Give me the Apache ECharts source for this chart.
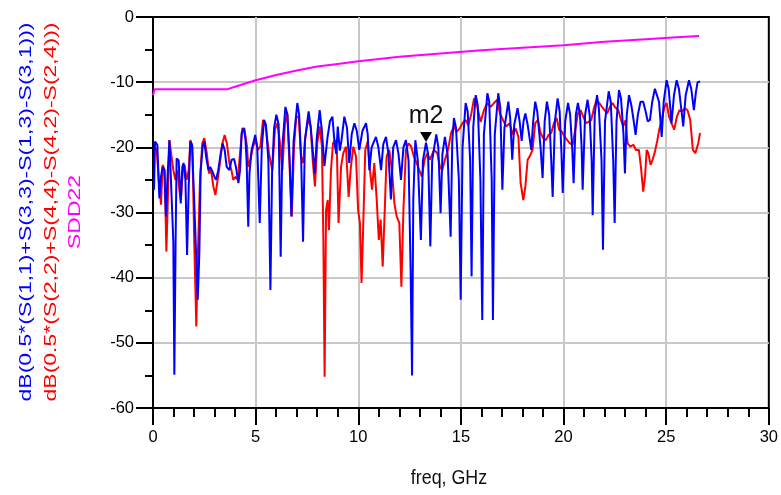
<!DOCTYPE html>
<html><head><meta charset="utf-8">
<script src="https://cdn.jsdelivr.net/npm/echarts@6/dist/echarts.min.js"></script>
<style>html,body{margin:0;padding:0;background:#fff}#c{width:781px;height:495px}</style>
</head><body><div id="c"></div>
<script>
// ---- data (freq GHz, dB) ----
const blueLabel = 'dB(0.5*(S(1,1)+S(3,3)-S(1,3)-S(3,1)))';
const redLabel = 'dB(0.5*(S(2,2)+S(4,4)-S(4,2)-S(2,4)))';
const magLabel = 'SDD22';
const xName = 'freq, GHz';
const markerName = 'm2';
const markerFreq = 13.3;
const markerDb = -19.2;

const bluePts = [[0.05,-26.5],[0.1,-19.1],[0.21,-19.6],[0.31,-27.8],[0.39,-24.5],[0.47,-23],[0.55,-23.5],[0.63,-30.6],[0.7,-25],[0.8,-18.9],[0.89,-19.1],[0.99,-34.5],[1.04,-54.9],[1.1,-34.7],[1.15,-21.7],[1.25,-22],[1.35,-28.6],[1.43,-23],[1.49,-22.4],[1.58,-25],[1.66,-36.5],[1.74,-26],[1.82,-19.1],[1.9,-19.6],[2.0,-27.6],[2.08,-34.7],[2.18,-43.4],[2.26,-36],[2.32,-23.7],[2.42,-19.9],[2.5,-19.1],[2.6,-21.7],[2.7,-23.5],[2.79,-23],[2.89,-23.7],[2.99,-24.5],[3.07,-25],[3.18,-23.5],[3.3,-20.9],[3.39,-19.4],[3.49,-20.4],[3.59,-23],[3.72,-23.5],[3.83,-21.9],[3.95,-21.8],[4.04,-23],[4.16,-25.5],[4.24,-23.5],[4.32,-17.8],[4.42,-17.1],[4.5,-18.6],[4.56,-22],[4.64,-32.2],[4.7,-24],[4.8,-20.5],[4.98,-18.1],[5.08,-20],[5.2,-31.6],[5.3,-20],[5.41,-15.8],[5.5,-16.5],[5.62,-22],[5.72,-41.9],[5.8,-24],[5.9,-17],[6.01,-15],[6.12,-16.5],[6.22,-36.8],[6.3,-20],[6.45,-13.8],[6.55,-15],[6.66,-22],[6.74,-30.6],[6.85,-19],[7.03,-13.2],[7.12,-15],[7.22,-22],[7.31,-34.5],[7.4,-19],[7.58,-14.5],[7.68,-16.8],[7.88,-24],[7.98,-18.5],[8.12,-14.3],[8.22,-17.2],[8.35,-22.9],[8.5,-18.5],[8.62,-16],[8.74,-15.3],[8.85,-19.5],[8.93,-21],[9.0,-16.8],[9.1,-20.5],[9.18,-19],[9.32,-15.3],[9.45,-17],[9.56,-22.4],[9.68,-18],[9.81,-16.3],[9.93,-17.5],[10.05,-20.4],[10.2,-17.5],[10.38,-16.3],[10.46,-18],[10.54,-23.5],[10.65,-20],[10.86,-18.4],[10.98,-20],[11.11,-23.5],[11.22,-19.5],[11.35,-18.4],[11.47,-21],[11.59,-28],[11.7,-20],[11.84,-18.9],[11.96,-21],[12.08,-25],[12.2,-20],[12.32,-18.9],[12.45,-22],[12.55,-38.8],[12.62,-55],[12.68,-28],[12.78,-18.9],[12.9,-22],[13.05,-34.2],[13.15,-22],[13.3,-19.3],[13.4,-21],[13.51,-35.2],[13.6,-22],[13.8,-18],[13.9,-20],[14.01,-30.1],[14.1,-21],[14.22,-18.4],[14.35,-21],[14.5,-33.7],[14.58,-19],[14.66,-15.5],[14.76,-17],[14.9,-25],[14.99,-43.4],[15.08,-20],[15.23,-13.2],[15.33,-14.5],[15.45,-22],[15.52,-39.8],[15.6,-17],[15.72,-12],[15.82,-13.5],[15.95,-25],[16.04,-46.5],[16.12,-18],[16.29,-11.7],[16.38,-13],[16.5,-25],[16.56,-46.5],[16.65,-18],[16.82,-11.7],[16.92,-14],[17.02,-26.5],[17.12,-17],[17.31,-13],[17.4,-15.5],[17.5,-21.9],[17.6,-16.5],[17.76,-14],[17.86,-16],[17.96,-19],[18.05,-16],[18.14,-14.8],[18.25,-16.5],[18.43,-20.4],[18.52,-16],[18.62,-13],[18.72,-14.5],[18.88,-20],[18.98,-24.7],[19.08,-16],[19.19,-13],[19.3,-15],[19.4,-22],[19.47,-27.6],[19.58,-16],[19.71,-12.5],[19.81,-14.5],[19.9,-21],[19.96,-27],[20.08,-16],[20.22,-13.2],[20.32,-15],[20.42,-20],[20.49,-25.5],[20.6,-15],[20.7,-13.2],[20.8,-15],[20.88,-20],[20.93,-26.5],[21.05,-15],[21.17,-12.7],[21.27,-15],[21.37,-22],[21.42,-30.4],[21.52,-15],[21.63,-12],[21.72,-14],[21.85,-22],[21.92,-35.7],[22.02,-16],[22.2,-11.4],[22.3,-13],[22.42,-22],[22.49,-31.6],[22.58,-16],[22.7,-11.2],[22.8,-12.5],[22.92,-18],[22.99,-24],[23.08,-15],[23.19,-12],[23.3,-13.5],[23.42,-16],[23.51,-18.1],[23.62,-15],[23.75,-13],[23.88,-13],[24.0,-14.5],[24.1,-16],[24.21,-15.8],[24.32,-13],[24.45,-11],[24.53,-10.7],[24.65,-13],[24.78,-18.4],[24.88,-13],[25.02,-9.7],[25.12,-11],[25.2,-14],[25.26,-16.3],[25.38,-12],[25.51,-9.7],[25.62,-11],[25.75,-14.5],[25.83,-16.8],[25.95,-12],[26.11,-9.7],[26.22,-11],[26.35,-14.3],[26.45,-11.5],[26.53,-10],[26.65,-9.9]];

const redPts = [[0.06,-19.9],[0.18,-20.4],[0.29,-25.5],[0.39,-28.8],[0.47,-22.7],[0.57,-23.5],[0.65,-36],[0.71,-29.6],[0.8,-18.9],[0.89,-18.6],[0.99,-23.5],[1.09,-25],[1.19,-23.5],[1.28,-26.5],[1.36,-28.1],[1.45,-23.5],[1.54,-22.7],[1.64,-25],[1.74,-23.5],[1.82,-18.9],[1.92,-19.9],[2.01,-34.7],[2.11,-47.5],[2.19,-36],[2.29,-25],[2.4,-19.4],[2.5,-18.6],[2.62,-20.9],[2.73,-24],[2.83,-23.5],[2.94,-26],[3.04,-27.3],[3.15,-25],[3.26,-22.4],[3.38,-19.4],[3.49,-18.1],[3.6,-19.4],[3.72,-22.4],[3.82,-23.5],[3.91,-25],[4.03,-24.5],[4.13,-25],[4.24,-20.9],[4.35,-17.1],[4.45,-17.1],[4.58,-19.9],[4.64,-23],[4.74,-21.9],[4.87,-19.9],[5.0,-18.9],[5.11,-20.4],[5.23,-19.9],[5.36,-15.8],[5.49,-16.8],[5.65,-20.9],[5.81,-23.5],[5.94,-17.3],[6.06,-16.3],[6.17,-18.9],[6.3,-23.5],[6.43,-16.3],[6.54,-14.8],[6.66,-23.5],[6.76,-30.6],[6.87,-19.9],[6.98,-15.3],[7.1,-15.3],[7.21,-21.4],[7.31,-22.4],[7.42,-18.4],[7.55,-15.8],[7.68,-16.8],[7.79,-22.4],[7.89,-26],[8.0,-19.4],[8.12,-16.8],[8.23,-19.9],[8.3,-34.2],[8.36,-55.2],[8.43,-29.6],[8.51,-28.1],[8.57,-32.7],[8.67,-23.5],[8.77,-19.4],[8.88,-18.9],[8.96,-20.9],[9.04,-31.6],[9.16,-23],[9.27,-20.9],[9.4,-19.9],[9.53,-27.6],[9.64,-23],[9.76,-19.9],[9.89,-21.4],[9.99,-29.6],[10.08,-31.6],[10.16,-40.8],[10.25,-31.1],[10.34,-20.4],[10.46,-19.1],[10.57,-23.5],[10.67,-26.5],[10.78,-22.4],[10.9,-28.1],[11.0,-34.2],[11.09,-31.1],[11.19,-38.3],[11.29,-29.6],[11.38,-21.4],[11.51,-20.4],[11.64,-23.5],[11.76,-28.6],[11.87,-30.6],[12.0,-31.6],[12.1,-41.4],[12.2,-29.6],[12.32,-20.4],[12.45,-19.4],[12.58,-19.9],[12.71,-21.4],[12.84,-22.4],[12.97,-23.5],[13.1,-24.5],[13.23,-21.9],[13.36,-20.9],[13.49,-21.9],[13.69,-20.4],[13.85,-20.9],[13.98,-23],[14.09,-23.5],[14.22,-21.9],[14.37,-20.4],[14.52,-17.8],[14.66,-16.8],[14.79,-17.6],[14.94,-17.1],[15.07,-16.3],[15.23,-15.8],[15.36,-16.6],[15.51,-14.8],[15.64,-12.5],[15.8,-13.8],[15.96,-16.1],[16.12,-14.3],[16.29,-13.2],[16.45,-13.8],[16.61,-13.2],[16.77,-12.7],[16.9,-14.8],[17.05,-15.8],[17.21,-16.8],[17.37,-16.3],[17.54,-18.1],[17.67,-17.1],[17.8,-18.4],[17.91,-25.5],[18.04,-28.1],[18.14,-26],[18.25,-21.9],[18.38,-21.2],[18.49,-20.4],[18.62,-16.3],[18.75,-15.8],[18.88,-17.8],[19.01,-18.6],[19.14,-18.9],[19.27,-18.1],[19.4,-17.8],[19.53,-16.3],[19.66,-15.5],[19.79,-17.3],[19.92,-17.6],[20.05,-18.4],[20.18,-18.9],[20.31,-19.4],[20.44,-19.6],[20.57,-17.3],[20.7,-14.8],[20.83,-14.3],[20.96,-15.3],[21.09,-16.3],[21.22,-16.1],[21.35,-15.8],[21.48,-14],[21.61,-12.7],[21.74,-13.2],[21.87,-13.8],[22.0,-14.3],[22.13,-14.8],[22.26,-13.8],[22.39,-13.2],[22.5,-13.8],[22.67,-14.3],[22.8,-15.8],[22.91,-16.8],[23.02,-15.8],[23.12,-19.4],[23.25,-19.9],[23.4,-19.6],[23.53,-20.4],[23.67,-20.4],[23.77,-23],[23.88,-26.8],[23.97,-24.5],[24.05,-20.4],[24.13,-20.9],[24.24,-22.7],[24.34,-21.9],[24.45,-20.7],[24.57,-18.9],[24.66,-17.3],[24.78,-15.8],[24.91,-13.8],[25.02,-13.2],[25.14,-15.3],[25.26,-16.3],[25.39,-17.3],[25.52,-15.3],[25.65,-14.3],[25.78,-14.5],[25.91,-14],[26.04,-14.3],[26.17,-15.8],[26.3,-20.4],[26.42,-20.9],[26.5,-21.2],[26.56,-19.4],[26.65,-17.8]];

const magPts = [[0,-12.0],[0.08,-11.1],[3.6,-11.1],[4.0,-10.7],[5.0,-9.7],[6.0,-8.9],[7.0,-8.2],[8.0,-7.6],[9.0,-7.2],[10.0,-6.8],[12.0,-6.1],[14.0,-5.6],[16.0,-5.1],[18.0,-4.7],[20.0,-4.35],[22.0,-3.8],[24.0,-3.4],[25.5,-3.1],[26.6,-2.9]];

const xRange = [0, 30], xStep = 5;
const yRange = [-60, 0], yStep = 10;

// ---- chart ----
const FONT = '"Liberation Sans", Arial, sans-serif';
const chart = echarts.init(document.getElementById('c'), null, {renderer: 'canvas'});
const tickStyle = {color: '#000', width: 2};
chart.setOption({
  animation: false,
  backgroundColor: '#fff',
  grid: {left: 153, right: 12, top: 17, bottom: 87, show: true, borderColor: '#000', borderWidth: 2, backgroundColor: 'transparent'},
  xAxis: {
    type: 'value', min: xRange[0], max: xRange[1], interval: xStep,
    axisLine: {onZero: false, lineStyle: tickStyle},
    axisTick: {show: true, length: 17, lineStyle: tickStyle},
    minorTick: {show: true, splitNumber: 5, length: 9, lineStyle: tickStyle},
    axisLabel: {color: '#000', fontSize: 16.5, fontFamily: FONT, margin: 21},
    splitLine: {show: true, showMinLine: false, showMaxLine: false, lineStyle: {color: '#c8c8c8', width: 2}}
  },
  yAxis: {
    type: 'value', min: yRange[0], max: yRange[1], interval: yStep,
    axisLine: {onZero: false, lineStyle: tickStyle},
    axisTick: {show: true, length: 17, lineStyle: tickStyle},
    minorTick: {show: true, splitNumber: 2, length: 8, lineStyle: tickStyle},
    axisLabel: {color: '#000', fontSize: 16.5, fontFamily: FONT, margin: 19},
    splitLine: {show: true, showMinLine: false, showMaxLine: false, lineStyle: {color: '#c8c8c8', width: 2}}
  },
  series: [
    {name: 'red', type: 'line', data: redPts, showSymbol: false, symbol: 'none', lineStyle: {color: '#ff0000', width: 2}, z: 3},
    {name: 'blue', type: 'line', data: bluePts, showSymbol: false, symbol: 'none', lineStyle: {color: '#0000ff', width: 2}, z: 4,
     markPoint: {
       symbol: 'triangle', symbolSize: [12, 10], symbolRotate: 180, symbolOffset: [0, -5],
       itemStyle: {color: '#000'},
       label: {show: true, position: 'top', distance: 4, formatter: markerName, color: '#111', fontSize: 25, fontFamily: FONT},
       data: [{coord: [markerFreq, markerDb]}]
     }},
    {name: 'mag', type: 'line', data: magPts, showSymbol: false, symbol: 'none', lineStyle: {color: '#ff00ff', width: 2}, z: 5}
  ],
  graphic: [
    {type: 'text', x: 26, y: 212, rotation: Math.PI / 2, scaleY: 0.75,
     style: {text: blueLabel, fill: '#0000ff', fontSize: 23, fontFamily: FONT, align: 'center', verticalAlign: 'middle'}},
    {type: 'text', x: 51, y: 212, rotation: Math.PI / 2, scaleY: 0.75,
     style: {text: redLabel, fill: '#ff0000', fontSize: 23, fontFamily: FONT, align: 'center', verticalAlign: 'middle'}},
    {type: 'text', x: 75, y: 212, rotation: Math.PI / 2, scaleY: 0.75,
     style: {text: magLabel, fill: '#ff00ff', fontSize: 23, fontFamily: FONT, align: 'center', verticalAlign: 'middle'}},
    {type: 'text', x: 449, y: 478, scaleX: 0.85,
     style: {text: xName, fill: '#111', fontSize: 21, fontFamily: FONT, align: 'center', verticalAlign: 'middle'}}
  ]
});
</script>
</body></html>
